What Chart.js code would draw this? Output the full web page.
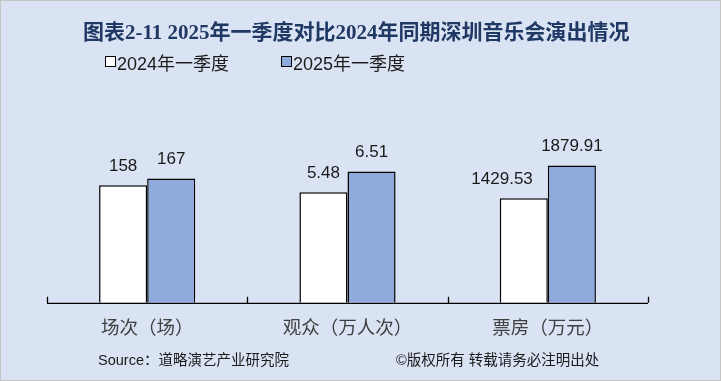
<!DOCTYPE html>
<html><head><meta charset="utf-8">
<script src="https://cdn.jsdelivr.net/npm/chart.js@4/dist/chart.umd.min.js"></script>
<style>
html,body{margin:0;padding:0;}
#wrap{position:relative;width:721px;height:381px;box-sizing:border-box;background:#DAE3F3;border:1px solid #c4c4c4;overflow:hidden;}
#c{position:absolute;left:0;top:0;}
.t{position:absolute;white-space:nowrap;line-height:1;}
#title{left:82px;top:14px;font:bold 21px "Liberation Serif","Noto Sans CJK SC";color:#1F3864;}
.lg{top:48px;font:18px "Liberation Sans","Noto Sans CJK SC";color:#1a1a1a;}
.box{position:absolute;width:9px;height:9px;border:1px solid #000;top:55px;}
.ft{top:347px;font:14.5px "Liberation Sans","Noto Sans CJK SC";color:#1a1a1a;}
</style></head>
<body>
<div id="wrap">
<canvas id="c" width="721" height="381"></canvas>
<div id="title" class="t">图表2-11 2025年一季度对比2024年同期深圳音乐会演出情况</div>
<div class="box" style="left:104px;background:#fff"></div>
<div class="t lg" style="left:116px">2024年一季度</div>
<div class="box" style="left:280px;background:#8FAADC"></div>
<div class="t lg" style="left:292px">2025年一季度</div>
<div class="t ft" style="left:97px">Source：道略演艺产业研究院</div>
<div class="t ft" style="left:395px">©版权所有  转载请务必注明出处</div>
</div>
<script>
const categories = ["场次（场）", "观众（万人次）", "票房（万元）"];
const seriesNames = ["2024年一季度", "2025年一季度"];
// values shown on the labels
const values2024 = [158, 5.48, 1429.53];
const values2025 = [167, 6.51, 1879.91];
const labels2024 = ["158", "5.48", "1429.53"];
const labels2025 = ["167", "6.51", "1879.91"];
// relative bar heights as drawn in the picture (each category has its own unit)
const heights2024 = [59.4, 55.9, 52.9];
const heights2025 = [62.9, 66.4, 69.4];

const valueLabels = [labels2024, labels2025];

const upTicks = {
  id: 'upTicks',
  afterDatasetsDraw(chart) {
    const ctx = chart.ctx, xs = chart.scales.x, area = chart.chartArea;
    ctx.save();
    ctx.strokeStyle = '#000';
    ctx.lineWidth = 1.3;
    ctx.beginPath();
    ctx.moveTo(area.left, area.bottom + 0.5);
    ctx.lineTo(area.right, area.bottom + 0.5);
    for (let i = 0; i <= categories.length; i++) {
      const x = Math.round(xs.getPixelForValue(i - 0.5)) + 0.5;
      ctx.moveTo(x, area.bottom);
      ctx.lineTo(x, area.bottom - 6);
    }
    ctx.stroke();
    // value labels
    ctx.font = '17px "Liberation Sans"';
    ctx.fillStyle = '#1a1a1a';
    ctx.textBaseline = 'middle';
    chart.data.datasets.forEach((ds, di) => {
      chart.getDatasetMeta(di).data.forEach((el, i) => {
        const txt = valueLabels[di][i];
        const w = ctx.measureText(txt).width;
        if (di === 0 && w > el.width) {
          // wide label on the left bar: pulled left so it clears the neighbouring label
          ctx.textAlign = 'right';
          ctx.fillText(txt, el.x + 9, el.y - 19);
        } else {
          ctx.textAlign = 'center';
          ctx.fillText(txt, el.x, el.y - 19);
        }
      });
    });
    ctx.restore();
  }
};

new Chart(document.getElementById('c'), {
  type: 'bar',
  data: {
    labels: categories,
    datasets: [
      {label: seriesNames[0], data: heights2024, backgroundColor: '#FFFFFF', borderColor: '#000', borderWidth: 1.5, categoryPercentage: 0.48, barPercentage: 1},
      {label: seriesNames[1], data: heights2025, backgroundColor: '#8FAADC', borderColor: '#000', borderWidth: 1.5, categoryPercentage: 0.48, barPercentage: 1}
    ]
  },
  options: {
    responsive: false,
    animation: false,
    layout: {padding: {left: 46, right: 74, top: 104, bottom: 39}},
    plugins: {legend: {display: false}, title: {display: false}, tooltip: {enabled: false}},
    scales: {
      x: {
        offset: true,
        grid: {display: false},
        border: {display: false},
        ticks: {font: {family: '"Noto Sans CJK SC"', size: 18.5}, color: '#404040', padding: 5}
      },
      y: {display: false, min: 0, max: 100}
    }
  },
  plugins: [upTicks]
});
</script>
</body></html>
